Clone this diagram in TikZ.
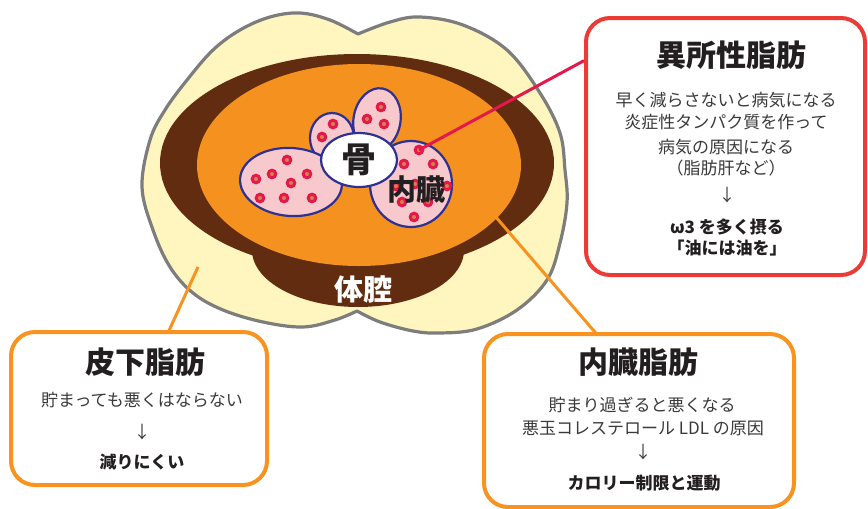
\documentclass[tikz,border=0pt]{standalone}
\usepackage{fontspec}
\setmainfont{Noto Sans CJK JP}
\usetikzlibrary{shapes.geometric,calc}

\definecolor{bodyfill}{HTML}{FFF5BE}
\definecolor{outline}{HTML}{7D7D7D}
\definecolor{cavity}{HTML}{612C0F}
\definecolor{viscera}{HTML}{F5911E}
\definecolor{organfill}{HTML}{F7C9CD}
\definecolor{organline}{HTML}{2E3192}
\definecolor{fatdot}{HTML}{E4194B}
\definecolor{fatcore}{HTML}{D4824A}
\definecolor{alertred}{HTML}{EC3B36}
\definecolor{linkred}{HTML}{E3194D}
\definecolor{boxorange}{HTML}{F7931E}
\definecolor{ink}{HTML}{231F20}
\definecolor{softink}{HTML}{3A3A3A}

\begin{document}
\begin{tikzpicture}[x=1pt,y=-1pt,
  organ/.style={ellipse, draw=organline, fill=organfill, line width=2.2pt, inner sep=0pt},
  fatdrop/.style={circle, draw=fatdot, fill=fatcore, line width=3pt, minimum size=7.6pt, inner sep=0pt},
  infobox/.style={draw, line width=4pt, rounded corners=24pt, fill=white, inner sep=0pt},
  heading/.style={font=\fontsize{30}{30}\selectfont\bfseries, text=ink, inner sep=0pt, text height=26.4pt, text depth=3.6pt},
  bodyline/.style={font=\fontsize{17}{17}\selectfont, text=softink, inner sep=0pt, text height=15pt, text depth=2pt},
  keyline/.style={font=\fontsize{17}{17}\selectfont\bfseries, text=ink, inner sep=0pt, text height=15pt, text depth=2pt},
  link/.style={line width=3pt}
]
\useasboundingbox (0,0) rectangle (868,509);

% torso cross-section: two fat lobes with notches at top and bottom
\filldraw[fill=bodyfill, draw=outline, line width=3.2pt, line join=round]
  (358,34) -- plot[smooth, tension=0.6] coordinates {(358,34) (330,20) (300,13) (270,17) (240,30) (213,50) (187,80) (165,110) (150,140) (142,187) (153,230) (170,267) (193,293) (223,310) (263,322) (303,327) (335,320) (357,311)}
  -- plot[smooth, tension=0.6] coordinates {(357,311) (380,322) (413,331) (440,333) (477,329) (517,310) (547,280) (560,243) (567,203) (565,170) (560,133) (540,93) (507,50) (463,25) (420,17) (390,22) (358,34)}
  -- cycle;

% muscle wall with the lower bowl
\fill[cavity] (357,163) ellipse [x radius=197pt, y radius=109pt];
\fill[cavity] (358,250) ellipse [x radius=106pt, y radius=57pt];
% abdominal cavity
\fill[viscera] (359,165) ellipse [x radius=162pt, y radius=101pt];

% organs
\node[organ, minimum width=44pt, minimum height=50pt] (lobeA) at (332,138) {};
\node[organ, minimum width=47pt, minimum height=64pt, rotate=-10] (lobeB) at (377,120) {};
\node[organ, minimum width=102pt, minimum height=68pt, rotate=-4] (lobeC) at (291,182) {};
\node[organ, minimum width=82pt, minimum height=86pt] (lobeD) at (411,184) {};

% fat droplets inside the organs
\foreach \p [count=\i] in {(287,160),(272,174),(256,179),(291,183),(307,174),(260,198),(284,198),(312,198),
  (333,124),(322,137),
  (381,107),(367,119),(384,124),
  (404,164),(433,164),(447,186),(396,186),(415,184),(402,202),(428,202),(414,217)}
  \node[fatdrop] (drop\i) at \p {};
\node[fatdrop] (seed) at (419,150) {};

% bone
\node[ellipse, draw=organline, fill=white, line width=2.2pt, minimum width=76pt, minimum height=54pt, inner sep=0pt] (bone) at (359,160) {};
\node[font=\fontsize{35}{35}\selectfont\bfseries, text=ink, inner sep=0pt] (boneLabel) at (359,160) {骨};
\node[font=\fontsize{29}{29}\selectfont\bfseries, text=ink, inner sep=0pt, text height=25.5pt, text depth=3.5pt] (organLabel) at (416,189) {内臓};
\node[font=\fontsize{29}{29}\selectfont\bfseries, text=white, inner sep=0pt, text height=25.5pt, text depth=3.5pt] (cavityLabel) at (363,289) {体腔};

% callout boxes
\node[infobox, draw=alertred, minimum width=279pt, minimum height=257pt] (ectopic) at (725.5,146.5) {};
\node[infobox, draw=boxorange, minimum width=256pt, minimum height=153pt] (subcut) at (139,408.5) {};
\node[infobox, draw=boxorange, minimum width=310pt, minimum height=173pt] (visceral) at (639,420.5) {};

% leader lines
\coordinate (subcutRoot) at (198,267);
\coordinate (visceralRoot) at (495,216);
\draw[link, linkred] (seed.center) -- ($(ectopic.north west)!0.171!(ectopic.south west)$);
\draw[link, boxorange] (subcutRoot) -- ($(subcut.north west)!0.613!(subcut.north east)+(0,2)$);
\draw[link, boxorange] (visceralRoot) -- ($(visceral.north west)!0.365!(visceral.north east)+(0,2)$);

% ectopic fat
\node[heading] (h1) at (731,55) {異所性脂肪};
\node[bodyline] (e1) at (726,100) {早く減らさないと病気になる};
\node[bodyline] (e2) at (726,122) {炎症性タンパク質を作って};
\node[bodyline] (e3) at (726,147) {病気の原因になる};
\node[bodyline] (e4) at (726,168) {（脂肪肝など）};
\node[bodyline] (e5) at (727,195) {↓};
\node[keyline] (e6) at (727,227) {ω3 を多く摂る};
\node[keyline] (e7) at (727,248) {「油には油を」};

% subcutaneous fat
\node[heading] (h2) at (145,362) {皮下脂肪};
\node[bodyline] (s1) at (142,400) {貯まっても悪くはならない};
\node[bodyline] (s2) at (142,432) {↓};
\node[keyline] (s3) at (142,462) {減りにくい};

% visceral fat
\node[heading] (h3) at (638,362) {内臓脂肪};
\node[bodyline] (v1) at (642,405) {貯まり過ぎると悪くなる};
\node[bodyline] (v2) at (643,428) {悪玉コレステロール LDL の原因};
\node[bodyline] (v3) at (643,452) {↓};
\node[keyline] (v4) at (644,483) {カロリー制限と運動};
\end{tikzpicture}
\end{document}
